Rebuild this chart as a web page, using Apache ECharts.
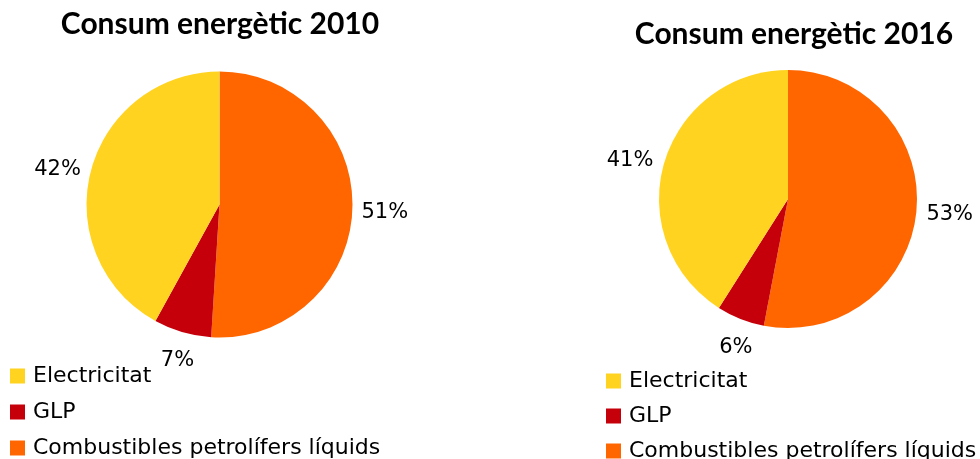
<!DOCTYPE html>
<html>
<head>
<meta charset="utf-8">
<script src="https://cdn.jsdelivr.net/npm/echarts@6/dist/echarts.min.js"></script>
<style>
  html, body { margin: 0; padding: 0; background: #ffffff; }
  #chart { width: 980px; height: 459px; }
</style>
</head>
<body>
<div id="chart"></div>
<script>
// Energy consumption shares, listed clockwise from 12 o'clock
const categories = ['Combustibles petrolífers líquids', 'GLP', 'Electricitat'];
const values2010 = [51, 7, 42];
const values2016 = [53, 6, 41];
const legendOrder = ['Electricitat', 'GLP', 'Combustibles petrolífers líquids'];
const titles = ['Consum energètic 2010', 'Consum energètic 2016'];

const colors = ['#FF6600', '#C5000B', '#FFD320'];

// small nudges applied to the outside percentage labels
const labelNudge2010 = [[1, 4], [14, 21], [-2, 0]];
const labelNudge2016 = [[2, 3], [15, 21], [-3, 0]];

function buildData(vals) {
  return categories.map((name, i) => ({
    name: name,
    value: vals[i],
    itemStyle: { color: colors[i] }
  }));
}

function pieSeries(vals, center, radius, nudge) {
  return {
    type: 'pie',
    center: center,
    radius: radius,
    startAngle: 90,
    clockwise: true,
    avoidLabelOverlap: false,
    silent: true,
    data: buildData(vals),
    itemStyle: { borderWidth: 0 },
    label: {
      show: true,
      position: 'outside',
      formatter: '{c}%',
      fontFamily: 'DejaVu Sans',
      fontSize: 21,
      color: '#000000',
      distanceToLabelLine: 0
    },
    labelLine: { show: false, length: 8, length2: 0 },
    labelLayout: function (p) {
      const n = nudge[p.dataIndex];
      return { dx: n[0], dy: n[1] };
    },
    emphasis: { disabled: true }
  };
}

function legendAt(left, top, gap) {
  return {
    orient: 'vertical',
    left: left,
    top: top,
    width: 400,
    height: 150,
    data: legendOrder,
    icon: 'rect',
    itemWidth: 15,
    itemHeight: 15,
    itemGap: gap,
    padding: 0,
    selectedMode: false,
    textStyle: {
      fontFamily: 'DejaVu Sans',
      fontSize: 22,
      lineHeight: 22,
      color: '#000000',
      padding: [0, 0, 0, 3]
    }
  };
}

const titleStyle = {
  fontFamily: 'Lato',
  fontWeight: 'bold',
  fontSize: 30,
  color: '#000000'
};

const chart = echarts.init(document.getElementById('chart'), null, { renderer: 'canvas' });
chart.setOption({
  animation: false,
  backgroundColor: '#ffffff',
  title: [
    { text: titles[0], left: 220, top: 9, textAlign: 'center', padding: 0, textStyle: titleStyle },
    { text: titles[1], left: 794, top: 19, textAlign: 'center', padding: 0, textStyle: titleStyle }
  ],
  legend: [
    legendAt(10, 365, 14),
    legendAt(606, 370, 13)
  ],
  series: [
    pieSeries(values2010, [219.5, 204.5], 133, labelNudge2010),
    pieSeries(values2016, [788, 199], 129, labelNudge2016)
  ]
});
</script>
</body>
</html>
